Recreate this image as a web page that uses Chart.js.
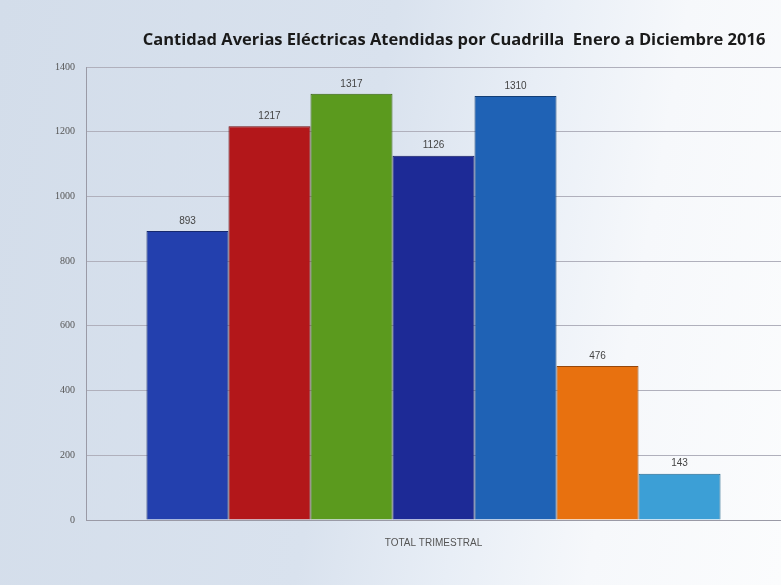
<!doctype html>
<html lang="es">
<head>
<meta charset="utf-8">
<title>Cantidad Averias Eléctricas Atendidas por Cuadrilla</title>
<style>
  html, body { margin: 0; padding: 0; }
  body {
    width: 781px; height: 585px; overflow: hidden;
    background: linear-gradient(100deg, #d3ddea 0%, #d9e2ee 45%, #e8eef6 62%, #f6f8fb 78%, #fbfcfd 100%);
  }
</style>
</head>
<body>
<canvas id="chart" width="781" height="585"></canvas>
<script src="https://cdn.jsdelivr.net/npm/chart.js"></script>
<script>
const titleText = 'Cantidad Averias Eléctricas Atendidas por Cuadrilla  Enero a Diciembre 2016'
const categories = ['TOTAL TRIMESTRAL']
const seriesNames = ['Cuadrilla 1', 'Cuadrilla 2', 'Cuadrilla 3', 'Cuadrilla 4', 'Cuadrilla 5', 'Cuadrilla 6', 'Cuadrilla 7']
const seriesValues = [893, 1217, 1317, 1126, 1310, 476, 143]
const seriesColors = ['#2340ae', '#b3171a', '#5b9a1e', '#1d2a96', '#1f62b5', '#e8710f', '#3c9fd6']
const seriesBorders = ['#15286e', '#6e0c0e', '#36600f', '#101a5e', '#123e76', '#96470a', '#23658a']
const yTicks = [0, 200, 400, 600, 800, 1000, 1200, 1400]

// title sits right of centre in the original, so it is drawn by hand
const titleAndLabels = {
  id: 'titleAndLabels',
  afterDatasetsDraw(chart) {
    const ctx = chart.ctx
    ctx.save()
    ctx.font = '10px "Liberation Sans"'
    ctx.fillStyle = '#444'
    ctx.textAlign = 'center'
    ctx.textBaseline = 'bottom'
    chart.data.datasets.forEach((ds, i) => {
      const bar = chart.getDatasetMeta(i).data[0]
      ctx.fillText(ds.data[0], bar.x, bar.y - 5)
    })
    ctx.font = 'bold 16.5px "Open Sans"'
    ctx.fillStyle = '#1a1a1a'
    ctx.textBaseline = 'middle'
    ctx.fillText(titleText, 454, 40)
    ctx.restore()
  }
}

new Chart(document.getElementById('chart'), {
  type: 'bar',
  data: {
    labels: categories,
    datasets: seriesValues.map((v, i) => ({
      label: seriesNames[i],
      data: [v],
      backgroundColor: seriesColors[i],
      borderColor: seriesBorders[i],
      borderWidth: 1
    }))
  },
  options: {
    responsive: false,
    animation: false,
    layout: { padding: { left: 0, right: 0, top: 67, bottom: 0 } },
    categoryPercentage: 0.826,
    barPercentage: 1,
    plugins: {
      legend: { display: false },
      tooltip: { enabled: false },
      title: { display: false }
    },
    scales: {
      x: {
        afterFit: (s) => { s.height = 65 },
        grid: { display: false, drawTicks: false },
        border: { display: true, color: '#9a9aa6' },
        ticks: { color: '#555', font: { family: '"Liberation Sans"', size: 10 }, padding: 17 }
      },
      y: {
        min: 0,
        max: 1400,
        afterFit: (s) => { s.width = 86 },
        afterBuildTicks: (s) => { s.ticks = yTicks.map(v => ({ value: v })) },
        grid: { color: '#b0b0bc', drawTicks: false },
        border: { display: true, color: '#9a9aa6' },
        ticks: {
          color: '#555',
          font: { family: '"Liberation Serif"', size: 10 },
          padding: 11,
          callback: (v) => String(v)
        }
      }
    }
  },
  plugins: [titleAndLabels]
})
</script>
</body>
</html>
